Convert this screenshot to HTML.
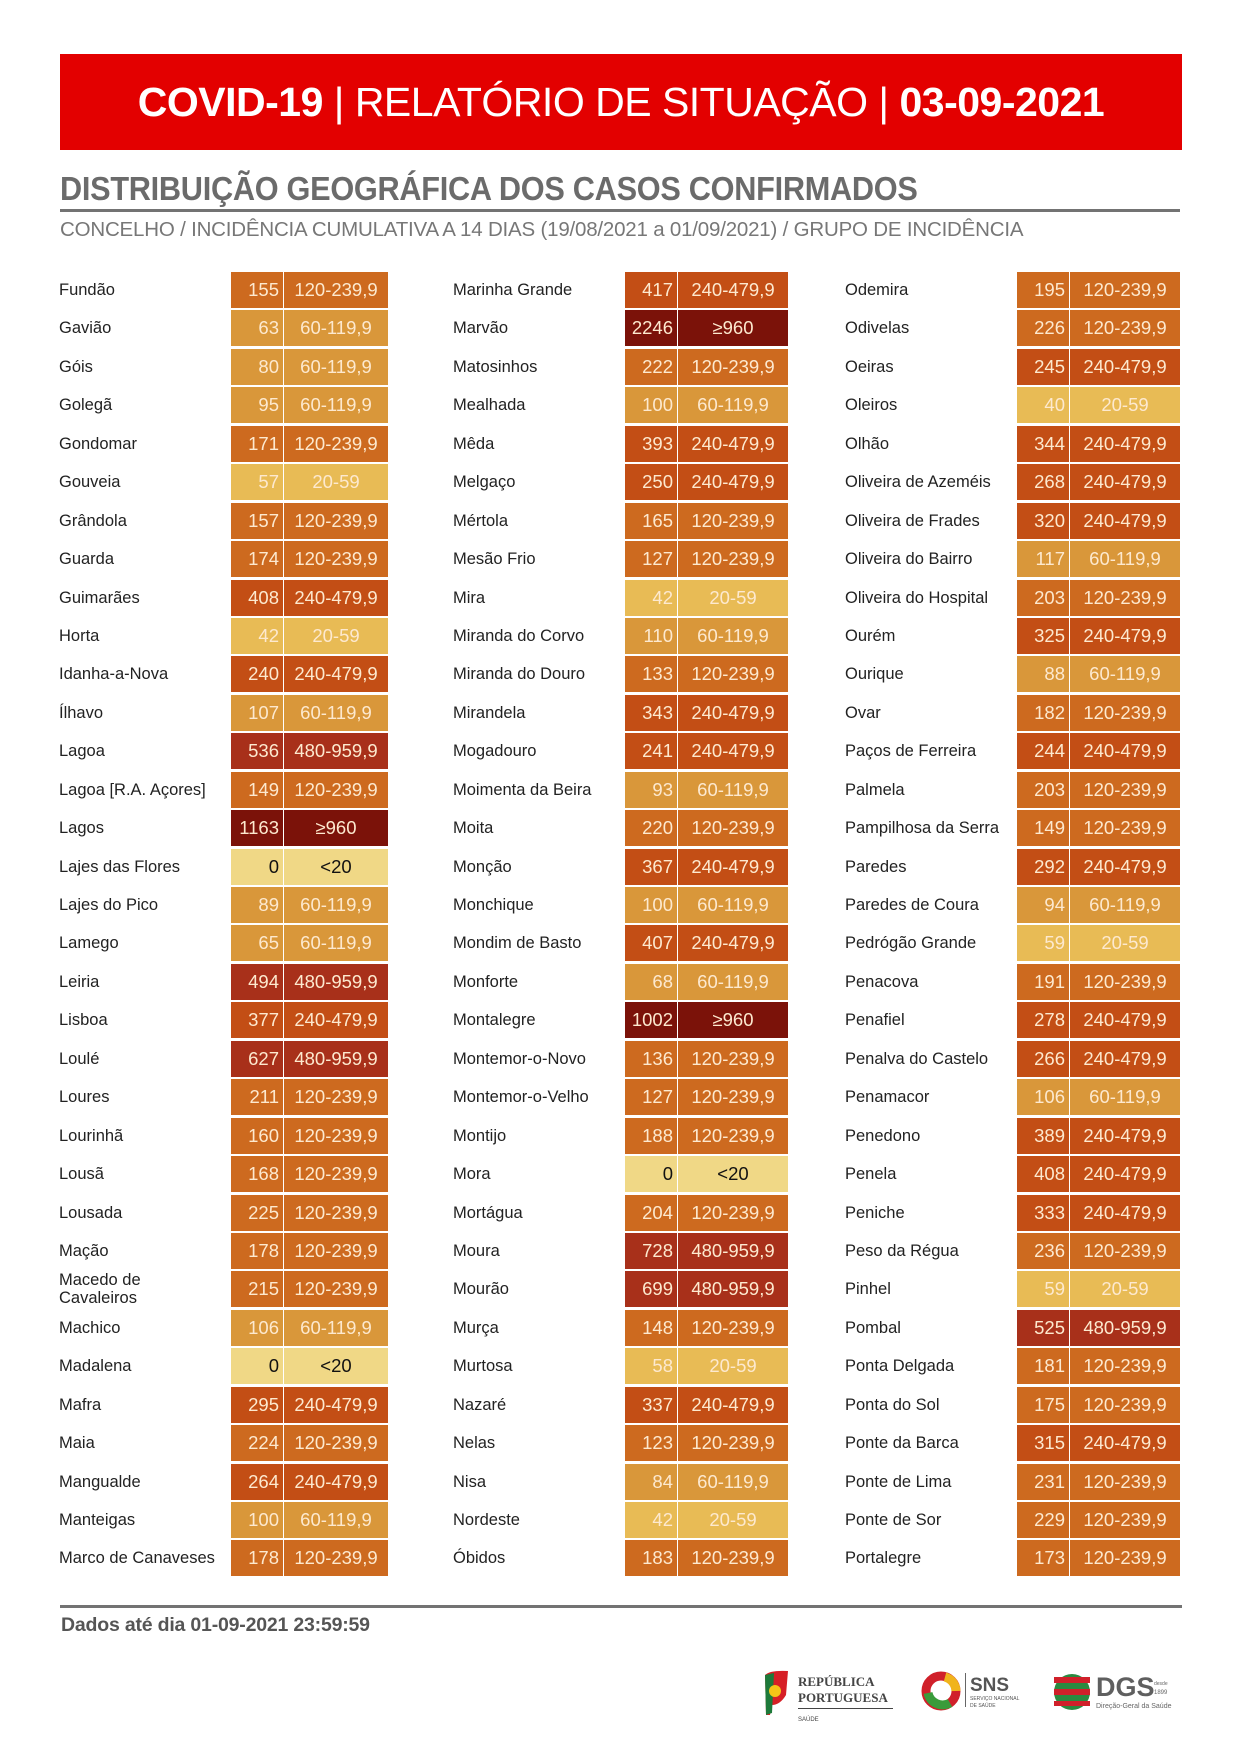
<!DOCTYPE html>
<html><head><meta charset="utf-8"><style>
*{margin:0;padding:0;box-sizing:border-box}
body{width:1240px;height:1752px;background:#fff;position:relative;font-family:"Liberation Sans",sans-serif;overflow:hidden}
.banner{position:absolute;left:60px;top:54px;width:1122px;height:96px;background:#e30000;color:#fff;font-size:41px;line-height:96px;text-align:center;letter-spacing:-0.5px}
.h1{position:absolute;left:60px;top:170px;font-size:33px;color:#6b6b6b;font-weight:bold;letter-spacing:-0.3px;transform:scaleX(0.93);transform-origin:left}
.rule{position:absolute;left:60px;width:1120px;height:3px;background:#737373}
.sub{position:absolute;left:60px;top:218px;font-size:20.5px;color:#777;letter-spacing:-0.2px}
.col{position:absolute;top:272px;display:grid;grid-auto-rows:38.45px}
.r{position:relative;height:36px}
.n{position:absolute;left:0;top:0;height:36px;line-height:36px;font-size:16.5px;color:#222;white-space:nowrap}
.n2{line-height:18px}
.v,.g{position:absolute;top:0;height:36px;line-height:36px;font-size:18.5px;color:#fde9cf}
.v{text-align:right;padding-right:4px}
.g{text-align:center}
.a{background:#f0d886;color:#111!important}
.b{background:#e8bb55}
.c{background:#d9973a}
.d{background:#cd6a1f}
.e{background:#c34e15}
.f{background:#a8301a}
.gg{background:#7b1209}
#c1 .v{left:172px;width:52px}#c1 .g{left:225px;width:104px}
#c2 .v{left:172px;width:52px}#c2 .g{left:225px;width:110px}
#c3 .v{left:172px;width:52px}#c3 .g{left:225px;width:110px}
.foot{position:absolute;left:61px;top:1614px;font-size:19.5px;color:#555;font-weight:bold;letter-spacing:-0.2px}
</style></head><body>
<div class="banner"><b>COVID-19</b> | RELATÓRIO DE SITUAÇÃO | <b>03-09-2021</b></div>
<div class="h1">DISTRIBUIÇÃO GEOGRÁFICA DOS CASOS CONFIRMADOS</div>
<div class="rule" style="top:209px"></div>
<div class="sub">CONCELHO / INCIDÊNCIA CUMULATIVA A 14 DIAS (19/08/2021 a 01/09/2021) / GRUPO DE INCIDÊNCIA</div>

<div class="col" id="c1" style="left:59px;width:330px">
<div class="r"><span class="n">Fundão</span><span class="v d">155</span><span class="g d">120-239,9</span></div>
<div class="r"><span class="n">Gavião</span><span class="v c">63</span><span class="g c">60-119,9</span></div>
<div class="r"><span class="n">Góis</span><span class="v c">80</span><span class="g c">60-119,9</span></div>
<div class="r"><span class="n">Golegã</span><span class="v c">95</span><span class="g c">60-119,9</span></div>
<div class="r"><span class="n">Gondomar</span><span class="v d">171</span><span class="g d">120-239,9</span></div>
<div class="r"><span class="n">Gouveia</span><span class="v b">57</span><span class="g b">20-59</span></div>
<div class="r"><span class="n">Grândola</span><span class="v d">157</span><span class="g d">120-239,9</span></div>
<div class="r"><span class="n">Guarda</span><span class="v d">174</span><span class="g d">120-239,9</span></div>
<div class="r"><span class="n">Guimarães</span><span class="v e">408</span><span class="g e">240-479,9</span></div>
<div class="r"><span class="n">Horta</span><span class="v b">42</span><span class="g b">20-59</span></div>
<div class="r"><span class="n">Idanha-a-Nova</span><span class="v e">240</span><span class="g e">240-479,9</span></div>
<div class="r"><span class="n">Ílhavo</span><span class="v c">107</span><span class="g c">60-119,9</span></div>
<div class="r"><span class="n">Lagoa</span><span class="v f">536</span><span class="g f">480-959,9</span></div>
<div class="r"><span class="n">Lagoa [R.A. Açores]</span><span class="v d">149</span><span class="g d">120-239,9</span></div>
<div class="r"><span class="n">Lagos</span><span class="v gg">1163</span><span class="g gg">≥960</span></div>
<div class="r"><span class="n">Lajes das Flores</span><span class="v a">0</span><span class="g a">&lt;20</span></div>
<div class="r"><span class="n">Lajes do Pico</span><span class="v c">89</span><span class="g c">60-119,9</span></div>
<div class="r"><span class="n">Lamego</span><span class="v c">65</span><span class="g c">60-119,9</span></div>
<div class="r"><span class="n">Leiria</span><span class="v f">494</span><span class="g f">480-959,9</span></div>
<div class="r"><span class="n">Lisboa</span><span class="v e">377</span><span class="g e">240-479,9</span></div>
<div class="r"><span class="n">Loulé</span><span class="v f">627</span><span class="g f">480-959,9</span></div>
<div class="r"><span class="n">Loures</span><span class="v d">211</span><span class="g d">120-239,9</span></div>
<div class="r"><span class="n">Lourinhã</span><span class="v d">160</span><span class="g d">120-239,9</span></div>
<div class="r"><span class="n">Lousã</span><span class="v d">168</span><span class="g d">120-239,9</span></div>
<div class="r"><span class="n">Lousada</span><span class="v d">225</span><span class="g d">120-239,9</span></div>
<div class="r"><span class="n">Mação</span><span class="v d">178</span><span class="g d">120-239,9</span></div>
<div class="r"><span class="n n2">Macedo de<br>Cavaleiros</span><span class="v d">215</span><span class="g d">120-239,9</span></div>
<div class="r"><span class="n">Machico</span><span class="v c">106</span><span class="g c">60-119,9</span></div>
<div class="r"><span class="n">Madalena</span><span class="v a">0</span><span class="g a">&lt;20</span></div>
<div class="r"><span class="n">Mafra</span><span class="v e">295</span><span class="g e">240-479,9</span></div>
<div class="r"><span class="n">Maia</span><span class="v d">224</span><span class="g d">120-239,9</span></div>
<div class="r"><span class="n">Mangualde</span><span class="v e">264</span><span class="g e">240-479,9</span></div>
<div class="r"><span class="n">Manteigas</span><span class="v c">100</span><span class="g c">60-119,9</span></div>
<div class="r"><span class="n">Marco de Canaveses</span><span class="v d">178</span><span class="g d">120-239,9</span></div>
</div>

<div class="col" id="c2" style="left:453px;width:335px">
<div class="r"><span class="n">Marinha Grande</span><span class="v e">417</span><span class="g e">240-479,9</span></div>
<div class="r"><span class="n">Marvão</span><span class="v gg">2246</span><span class="g gg">≥960</span></div>
<div class="r"><span class="n">Matosinhos</span><span class="v d">222</span><span class="g d">120-239,9</span></div>
<div class="r"><span class="n">Mealhada</span><span class="v c">100</span><span class="g c">60-119,9</span></div>
<div class="r"><span class="n">Mêda</span><span class="v e">393</span><span class="g e">240-479,9</span></div>
<div class="r"><span class="n">Melgaço</span><span class="v e">250</span><span class="g e">240-479,9</span></div>
<div class="r"><span class="n">Mértola</span><span class="v d">165</span><span class="g d">120-239,9</span></div>
<div class="r"><span class="n">Mesão Frio</span><span class="v d">127</span><span class="g d">120-239,9</span></div>
<div class="r"><span class="n">Mira</span><span class="v b">42</span><span class="g b">20-59</span></div>
<div class="r"><span class="n">Miranda do Corvo</span><span class="v c">110</span><span class="g c">60-119,9</span></div>
<div class="r"><span class="n">Miranda do Douro</span><span class="v d">133</span><span class="g d">120-239,9</span></div>
<div class="r"><span class="n">Mirandela</span><span class="v e">343</span><span class="g e">240-479,9</span></div>
<div class="r"><span class="n">Mogadouro</span><span class="v e">241</span><span class="g e">240-479,9</span></div>
<div class="r"><span class="n">Moimenta da Beira</span><span class="v c">93</span><span class="g c">60-119,9</span></div>
<div class="r"><span class="n">Moita</span><span class="v d">220</span><span class="g d">120-239,9</span></div>
<div class="r"><span class="n">Monção</span><span class="v e">367</span><span class="g e">240-479,9</span></div>
<div class="r"><span class="n">Monchique</span><span class="v c">100</span><span class="g c">60-119,9</span></div>
<div class="r"><span class="n">Mondim de Basto</span><span class="v e">407</span><span class="g e">240-479,9</span></div>
<div class="r"><span class="n">Monforte</span><span class="v c">68</span><span class="g c">60-119,9</span></div>
<div class="r"><span class="n">Montalegre</span><span class="v gg">1002</span><span class="g gg">≥960</span></div>
<div class="r"><span class="n">Montemor-o-Novo</span><span class="v d">136</span><span class="g d">120-239,9</span></div>
<div class="r"><span class="n">Montemor-o-Velho</span><span class="v d">127</span><span class="g d">120-239,9</span></div>
<div class="r"><span class="n">Montijo</span><span class="v d">188</span><span class="g d">120-239,9</span></div>
<div class="r"><span class="n">Mora</span><span class="v a">0</span><span class="g a">&lt;20</span></div>
<div class="r"><span class="n">Mortágua</span><span class="v d">204</span><span class="g d">120-239,9</span></div>
<div class="r"><span class="n">Moura</span><span class="v f">728</span><span class="g f">480-959,9</span></div>
<div class="r"><span class="n">Mourão</span><span class="v f">699</span><span class="g f">480-959,9</span></div>
<div class="r"><span class="n">Murça</span><span class="v d">148</span><span class="g d">120-239,9</span></div>
<div class="r"><span class="n">Murtosa</span><span class="v b">58</span><span class="g b">20-59</span></div>
<div class="r"><span class="n">Nazaré</span><span class="v e">337</span><span class="g e">240-479,9</span></div>
<div class="r"><span class="n">Nelas</span><span class="v d">123</span><span class="g d">120-239,9</span></div>
<div class="r"><span class="n">Nisa</span><span class="v c">84</span><span class="g c">60-119,9</span></div>
<div class="r"><span class="n">Nordeste</span><span class="v b">42</span><span class="g b">20-59</span></div>
<div class="r"><span class="n">Óbidos</span><span class="v d">183</span><span class="g d">120-239,9</span></div>
</div>

<div class="col" id="c3" style="left:845px;width:335px">
<div class="r"><span class="n">Odemira</span><span class="v d">195</span><span class="g d">120-239,9</span></div>
<div class="r"><span class="n">Odivelas</span><span class="v d">226</span><span class="g d">120-239,9</span></div>
<div class="r"><span class="n">Oeiras</span><span class="v e">245</span><span class="g e">240-479,9</span></div>
<div class="r"><span class="n">Oleiros</span><span class="v b">40</span><span class="g b">20-59</span></div>
<div class="r"><span class="n">Olhão</span><span class="v e">344</span><span class="g e">240-479,9</span></div>
<div class="r"><span class="n">Oliveira de Azeméis</span><span class="v e">268</span><span class="g e">240-479,9</span></div>
<div class="r"><span class="n">Oliveira de Frades</span><span class="v e">320</span><span class="g e">240-479,9</span></div>
<div class="r"><span class="n">Oliveira do Bairro</span><span class="v c">117</span><span class="g c">60-119,9</span></div>
<div class="r"><span class="n">Oliveira do Hospital</span><span class="v d">203</span><span class="g d">120-239,9</span></div>
<div class="r"><span class="n">Ourém</span><span class="v e">325</span><span class="g e">240-479,9</span></div>
<div class="r"><span class="n">Ourique</span><span class="v c">88</span><span class="g c">60-119,9</span></div>
<div class="r"><span class="n">Ovar</span><span class="v d">182</span><span class="g d">120-239,9</span></div>
<div class="r"><span class="n">Paços de Ferreira</span><span class="v e">244</span><span class="g e">240-479,9</span></div>
<div class="r"><span class="n">Palmela</span><span class="v d">203</span><span class="g d">120-239,9</span></div>
<div class="r"><span class="n">Pampilhosa da Serra</span><span class="v d">149</span><span class="g d">120-239,9</span></div>
<div class="r"><span class="n">Paredes</span><span class="v e">292</span><span class="g e">240-479,9</span></div>
<div class="r"><span class="n">Paredes de Coura</span><span class="v c">94</span><span class="g c">60-119,9</span></div>
<div class="r"><span class="n">Pedrógão Grande</span><span class="v b">59</span><span class="g b">20-59</span></div>
<div class="r"><span class="n">Penacova</span><span class="v d">191</span><span class="g d">120-239,9</span></div>
<div class="r"><span class="n">Penafiel</span><span class="v e">278</span><span class="g e">240-479,9</span></div>
<div class="r"><span class="n">Penalva do Castelo</span><span class="v e">266</span><span class="g e">240-479,9</span></div>
<div class="r"><span class="n">Penamacor</span><span class="v c">106</span><span class="g c">60-119,9</span></div>
<div class="r"><span class="n">Penedono</span><span class="v e">389</span><span class="g e">240-479,9</span></div>
<div class="r"><span class="n">Penela</span><span class="v e">408</span><span class="g e">240-479,9</span></div>
<div class="r"><span class="n">Peniche</span><span class="v e">333</span><span class="g e">240-479,9</span></div>
<div class="r"><span class="n">Peso da Régua</span><span class="v d">236</span><span class="g d">120-239,9</span></div>
<div class="r"><span class="n">Pinhel</span><span class="v b">59</span><span class="g b">20-59</span></div>
<div class="r"><span class="n">Pombal</span><span class="v f">525</span><span class="g f">480-959,9</span></div>
<div class="r"><span class="n">Ponta Delgada</span><span class="v d">181</span><span class="g d">120-239,9</span></div>
<div class="r"><span class="n">Ponta do Sol</span><span class="v d">175</span><span class="g d">120-239,9</span></div>
<div class="r"><span class="n">Ponte da Barca</span><span class="v e">315</span><span class="g e">240-479,9</span></div>
<div class="r"><span class="n">Ponte de Lima</span><span class="v d">231</span><span class="g d">120-239,9</span></div>
<div class="r"><span class="n">Ponte de Sor</span><span class="v d">229</span><span class="g d">120-239,9</span></div>
<div class="r"><span class="n">Portalegre</span><span class="v d">173</span><span class="g d">120-239,9</span></div>
</div>

<div class="rule" style="top:1605px;width:1122px"></div>
<div class="foot">Dados até dia 01-09-2021 23:59:59</div>

<svg style="position:absolute;left:760px;top:1665px" width="450" height="60">
<path d="M5 10 Q10 5 28 6 L26 30 Q20 40 12 40 L10 50 L6 50 Z" fill="#d61f26"/>
<path d="M5 10 L14 8 L12 48 L6 50 Z" fill="#1d7a3a"/>
<circle cx="15" cy="26" r="6" fill="#f5c518"/>
<text x="38" y="21" font-family="Liberation Serif,serif" font-weight="bold" font-size="13" fill="#444">REPÚBLICA</text>
<text x="38" y="37" font-family="Liberation Serif,serif" font-weight="bold" font-size="13" fill="#444">PORTUGUESA</text>
<rect x="38" y="43" width="95" height="1" fill="#444"/>
<text x="38" y="56" font-family="Liberation Sans,sans-serif" font-size="6" fill="#444">SAÚDE</text>
<circle cx="181" cy="26" r="15" fill="none" stroke="#d0202a" stroke-width="9"/>
<path d="M168 28 A15 15 0 0 0 190 38" fill="none" stroke="#3a9b3a" stroke-width="9"/>
<path d="M185 12 A15 15 0 0 1 196 26" fill="none" stroke="#f0b41c" stroke-width="9"/>
<rect x="205" y="8" width="1" height="34" fill="#666"/>
<text x="210" y="26" font-family="Liberation Sans,sans-serif" font-weight="bold" font-size="19" fill="#555">SNS</text>
<text x="210" y="35" font-family="Liberation Sans,sans-serif" font-size="5" fill="#555">SERVIÇO NACIONAL</text>
<text x="210" y="42" font-family="Liberation Sans,sans-serif" font-size="5" fill="#555">DE SAÚDE</text>
<ellipse cx="312" cy="27" rx="18" ry="18" fill="#2a8a40"/>
<rect x="294" y="12" width="36" height="6" fill="#d0202a"/>
<rect x="294" y="24" width="36" height="6" fill="#d0202a"/>
<rect x="294" y="36" width="36" height="5" fill="#d0202a"/>
<text x="336" y="31" font-family="Liberation Sans,sans-serif" font-weight="bold" font-size="27" fill="#5f5f5f">DGS</text>
<text x="394" y="20" font-family="Liberation Sans,sans-serif" font-size="5" fill="#666">desde</text>
<text x="394" y="29" font-family="Liberation Sans,sans-serif" font-size="6" fill="#666">1899</text>
<text x="336" y="43" font-family="Liberation Sans,sans-serif" font-size="7" fill="#666">Direção-Geral da Saúde</text>
</svg>
</body></html>
